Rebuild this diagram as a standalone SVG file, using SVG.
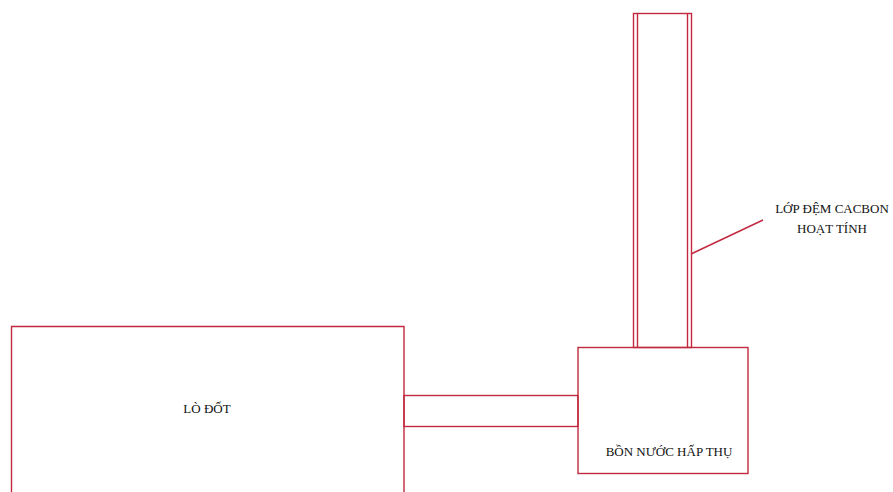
<svg xmlns="http://www.w3.org/2000/svg" width="893" height="492" viewBox="0 0 893 492">
<style>
.s{fill:none;stroke:#c2283e;stroke-width:1.4}
.t{font-family:"Liberation Serif",serif;font-size:13px;fill:#111;text-anchor:middle}
</style>
<rect width="893" height="492" fill="#fff"/>
<g id="lo-dot">
<path class="s" d="M11.5,495 V326.5 H404 V495"/>
<text class="t" x="207" y="413">LÒ ĐỐT</text>
</g>
<g id="ong-dan">
<rect class="s" x="404" y="395.5" width="174" height="31"/>
</g>
<g id="bon-nuoc">
<rect class="s" x="578" y="347.5" width="170" height="126"/>
<text class="t" x="669" y="456">BỒN NƯỚC HẤP THỤ</text>
</g>
<g id="thap-cacbon">
<rect class="s" x="633.5" y="13.5" width="58" height="334"/>
<path class="s" d="M637.5,13.5 V347.5 M687.5,13.5 V347.5"/>
<text class="t" x="832" y="213">LỚP ĐỆM CACBON</text>
<text class="t" x="832" y="233">HOẠT TÍNH</text>
</g>
<g id="connectors">
<line class="s" x1="691" y1="254" x2="763" y2="220"/>
</g>
</svg>
